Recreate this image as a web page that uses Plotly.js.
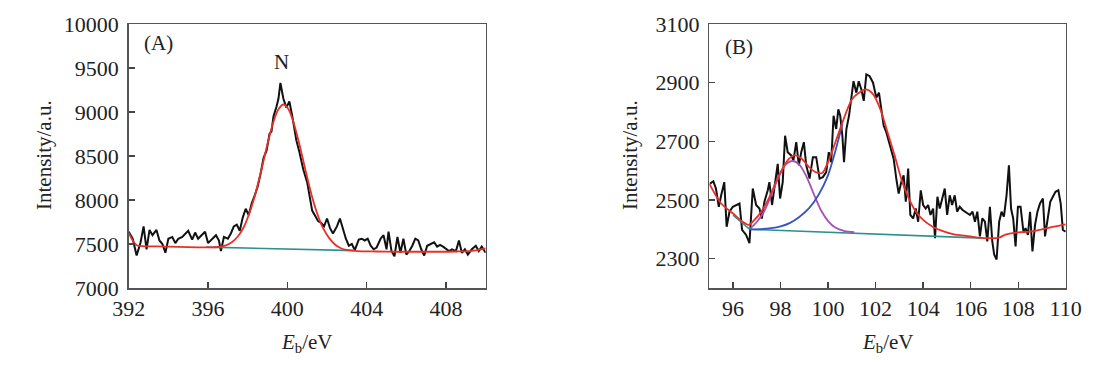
<!DOCTYPE html>
<html>
<head>
<meta charset="utf-8">
<script src="https://cdn.plot.ly/plotly-3.0.1.min.js"></script>
<style>html,body{margin:0;padding:0;background:#fff;}#chart{width:1119px;height:371px;}</style>
</head>
<body>
<div id="chart"></div>
<script>
// ---------- Panel A (N 1s) ----------
const aDataX = [392.0,392.2,392.4,392.6,392.75,392.9,393.05,393.2,393.4,393.55,393.7,393.85,394.0,394.2,394.35,394.5,394.7,394.85,395.0,395.2,395.35,395.5,395.7,395.85,396.0,396.2,396.4,396.55,396.65,396.8,397.0,397.15,397.3,397.45,397.6,397.75,397.9,398.05,398.2,398.35,398.5,398.65,398.8,398.95,399.1,399.2,399.3,399.45,399.55,399.65,399.8,399.95,400.1,400.25,400.45,400.6,400.8,401.0,401.15,401.25,401.4,401.55,401.7,401.85,402.0,402.15,402.3,402.5,402.65,402.8,402.95,403.1,403.25,403.4,403.6,403.75,403.9,404.05,404.2,404.35,404.5,404.7,404.85,405.0,405.1,405.25,405.4,405.55,405.7,405.85,406.0,406.15,406.3,406.45,406.6,406.75,406.9,407.05,407.2,407.4,407.55,407.7,407.85,408.0,408.15,408.3,408.5,408.65,408.8,408.95,409.1,409.3,409.5,409.65,409.8,410.0];
const aDataY = [7640,7560,7370,7520,7700,7440,7660,7600,7660,7540,7500,7400,7560,7580,7510,7560,7580,7620,7650,7550,7630,7560,7600,7640,7510,7560,7600,7540,7420,7580,7560,7620,7700,7720,7650,7800,7900,7830,7960,8050,8150,8300,8480,8560,8750,8780,8950,9060,9150,9330,9150,9050,9120,8950,8680,8550,8350,8200,8000,7880,7820,7760,7740,7700,7790,7680,7620,7700,7790,7680,7560,7480,7500,7430,7550,7560,7540,7560,7480,7440,7460,7560,7600,7440,7640,7420,7360,7580,7400,7560,7380,7420,7480,7560,7540,7440,7370,7480,7500,7520,7470,7490,7470,7440,7420,7440,7420,7540,7400,7440,7380,7440,7480,7420,7470,7400];
const aFitX = [392.0,392.2,392.4,392.7,393.5,394.5,395.5,396.0,396.5,396.9,397.2,397.5,397.8,398.1,398.4,398.7,399.0,399.3,399.55,399.8,400.05,400.3,400.6,400.9,401.2,401.5,401.8,402.1,402.4,402.7,403.0,403.5,404.5,405.5,406.5,407.5,408.5,409.3,410.0];
const aFitY = [7625,7540,7485,7475,7472,7468,7462,7462,7466,7485,7520,7585,7690,7860,8080,8350,8640,8890,9030,9085,9035,8890,8640,8350,8075,7850,7680,7570,7495,7452,7432,7420,7415,7412,7412,7412,7415,7422,7450];
const aBaseX = [395.9, 403.4];
const aBaseY = [7465, 7425];

// ---------- Panel B ----------
const bDataX = [95.03,95.17,95.28,95.4,95.5,95.63,95.73,95.85,95.99,96.13,96.27,96.38,96.55,96.69,96.83,96.97,97.11,97.21,97.32,97.46,97.53,97.64,97.77,97.88,97.98,98.09,98.19,98.3,98.45,98.54,98.66,98.77,98.87,98.98,99.08,99.22,99.36,99.5,99.64,99.78,99.92,100.03,100.13,100.23,100.34,100.43,100.51,100.6,100.67,100.77,100.88,100.98,101.07,101.19,101.29,101.4,101.5,101.61,101.75,101.89,102.03,102.14,102.24,102.34,102.45,102.56,102.66,102.76,102.87,102.97,103.08,103.18,103.27,103.37,103.46,103.58,103.69,103.79,103.9,104.0,104.11,104.21,104.31,104.42,104.5,104.6,104.7,104.81,104.91,105.01,105.12,105.22,105.33,105.43,105.54,105.66,105.76,105.85,105.97,106.08,106.18,106.28,106.39,106.49,106.6,106.7,106.81,106.91,106.99,107.09,107.2,107.3,107.4,107.51,107.61,107.7,107.79,107.89,107.99,108.1,108.22,108.31,108.41,108.5,108.6,108.71,108.81,108.92,109.04,109.13,109.23,109.35,109.46,109.57,109.69,109.79,109.88,110.0];
const bDataY = [2556,2564,2539,2477,2516,2561,2409,2460,2477,2483,2488,2398,2381,2353,2539,2483,2471,2437,2494,2533,2561,2483,2550,2623,2505,2561,2719,2663,2652,2635,2697,2618,2663,2697,2618,2573,2646,2646,2573,2578,2595,2663,2629,2787,2742,2809,2787,2719,2629,2742,2787,2855,2905,2866,2905,2877,2838,2928,2922,2900,2849,2866,2809,2753,2731,2697,2663,2640,2573,2522,2561,2584,2494,2607,2449,2437,2471,2426,2533,2483,2471,2483,2449,2471,2370,2511,2471,2505,2539,2449,2516,2483,2516,2460,2477,2466,2460,2454,2449,2460,2426,2460,2376,2437,2426,2359,2477,2359,2314,2297,2426,2460,2443,2516,2618,2471,2437,2342,2477,2477,2392,2404,2381,2460,2325,2415,2460,2488,2505,2376,2426,2494,2511,2528,2533,2488,2398,2392];
const bFitX = [95.0,95.5,96.0,96.4,96.65,96.9,97.2,97.5,97.8,98.1,98.35,98.6,98.9,99.2,99.5,99.75,100.0,100.3,100.6,101.0,101.3,101.6,101.9,102.2,102.5,102.8,103.1,103.4,103.7,104.0,104.4,104.8,105.3,105.8,106.3,106.8,107.2,107.5,108.0,108.5,109.0,109.5,110.0];
const bFitY = [2556,2488,2454,2426,2415,2432,2462,2505,2560,2610,2640,2652,2640,2612,2594,2592,2630,2695,2764,2843,2866,2877,2860,2809,2731,2652,2567,2505,2460,2432,2409,2395,2383,2378,2372,2370,2372,2383,2390,2392,2400,2409,2417];
const bPk1X = [96.7,97.0,97.3,97.6,97.9,98.2,98.5,98.8,99.1,99.4,99.7,100.0,100.3,100.7,101.1];
const bPk1Y = [2401,2425,2460,2515,2575,2620,2633,2620,2578,2520,2465,2428,2406,2394,2390];
const bPk2X = [96.7,97.2,97.6,98.0,98.4,98.8,99.2,99.6,100.0,100.3,100.6];
const bPk2Y = [2400,2401,2404,2410,2422,2443,2472,2518,2585,2665,2758];
const bBaseX = [96.0,96.7,106.5];
const bBaseY = [2448,2400,2370];

// tick labels
const aXTicks = [392,396,400,404,408];
const aYTicks = [7000,7500,8000,8500,9000,9500,10000];
const bXTicks = [96,98,100,102,104,106,108,110];
const bYTicks = [2300,2500,2700,2900,3100];

const W = 1119, H = 371;
const serif = "Liberation Serif, Times New Roman, serif";
const tickFont = {family: serif, size: 22, color: '#222'};

function ln(x, y, color, width, xa, ya, shape) {
  return {x: x, y: y, mode: 'lines', type: 'scatter', xaxis: xa, yaxis: ya,
          line: {color: color, width: width, shape: shape || 'linear', smoothing: 0.8},
          hoverinfo: 'skip', showlegend: false};
}

const data = [
  ln(aDataX, aDataY, '#111', 2, 'x', 'y'),
  ln(aBaseX, aBaseY, '#2f8f8f', 1.6, 'x', 'y'),
  ln(aFitX, aFitY, '#e8302a', 1.8, 'x', 'y', 'spline'),
  ln(bDataX, bDataY, '#111', 2, 'x2', 'y2'),
  ln(bBaseX, bBaseY, '#2f8f8f', 1.6, 'x2', 'y2'),
  ln(bPk1X, bPk1Y, '#a452b8', 1.8, 'x2', 'y2', 'spline'),
  ln(bPk2X, bPk2Y, '#3553c2', 1.8, 'x2', 'y2', 'spline'),
  ln(bFitX, bFitY, '#e8302a', 1.8, 'x2', 'y2', 'spline')
];

const yTop = 1 - 24 / H, yBot = 1 - 288 / H;
function ax(domain, range, tickvals, anchor) {
  return {domain: domain, range: range, tickvals: tickvals, ticktext: tickvals.map(String),
          ticks: 'inside', ticklen: 6, tickwidth: 1.3, tickcolor: '#444',
          showline: true, linecolor: '#555', linewidth: 1.5, mirror: true,
          showgrid: false, zeroline: false, tickfont: tickFont, anchor: anchor,
          fixedrange: true};
}

const layout = {
  width: W, height: H,
  margin: {l: 0, r: 0, t: 0, b: 0},
  paper_bgcolor: '#fff', plot_bgcolor: '#fff',
  showlegend: false,
  xaxis: Object.assign(ax([128.7 / W, 485.7 / W], [392, 410], aXTicks, 'y'), {ticklabelstandoff: 0}),
  yaxis: Object.assign(ax([yBot, yTop], [7000, 10000], aYTicks, 'x'), {ticklabelstandoff: 4}),
  xaxis2: Object.assign(ax([709.3 / W, 1065.7 / W], [95, 110], bXTicks, 'y2'), {ticklabelstandoff: 0}),
  yaxis2: Object.assign(ax([yBot, yTop], [2200, 3100], bYTicks, 'x2'), {ticklabelstandoff: 4}),
  annotations: [
    {xref: 'paper', yref: 'paper', x: 307 / W, y: 1 - 343 / H, text: '<i>E</i><sub>b</sub>/eV', showarrow: false, font: {family: serif, size: 21, color: '#222'}, xanchor: 'center', yanchor: 'middle'},
    {xref: 'paper', yref: 'paper', x: 888 / W, y: 1 - 343 / H, text: '<i>E</i><sub>b</sub>/eV', showarrow: false, font: {family: serif, size: 21, color: '#222'}, xanchor: 'center', yanchor: 'middle'},
    {xref: 'paper', yref: 'paper', x: 44 / W, y: 1 - 155 / H, text: 'Intensity/a.u.', textangle: -90, showarrow: false, font: {family: serif, size: 21, color: '#222'}, xanchor: 'center', yanchor: 'middle'},
    {xref: 'paper', yref: 'paper', x: 630 / W, y: 1 - 155 / H, text: 'Intensity/a.u.', textangle: -90, showarrow: false, font: {family: serif, size: 21, color: '#222'}, xanchor: 'center', yanchor: 'middle'},
    {xref: 'paper', yref: 'paper', x: 158 / W, y: 1 - 43 / H, text: '(A)', showarrow: false, font: {family: serif, size: 21, color: '#222'}, xanchor: 'center', yanchor: 'middle'},
    {xref: 'paper', yref: 'paper', x: 739 / W, y: 1 - 47 / H, text: '(B)', showarrow: false, font: {family: serif, size: 21, color: '#222'}, xanchor: 'center', yanchor: 'middle'},
    {xref: 'paper', yref: 'paper', x: 281 / W, y: 1 - 62 / H, text: 'N', showarrow: false, font: {family: serif, size: 21, color: '#222'}, xanchor: 'center', yanchor: 'middle'}
  ]
};

Plotly.newPlot('chart', data, layout, {staticPlot: true, displayModeBar: false});
</script>
</body>
</html>
